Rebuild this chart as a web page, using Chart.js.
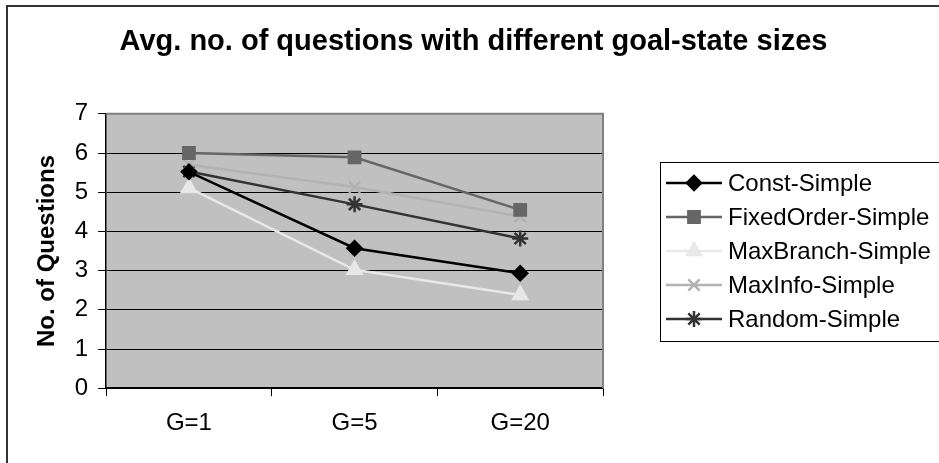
<!DOCTYPE html>
<html>
<head>
<meta charset="utf-8">
<script src="https://cdn.jsdelivr.net/npm/chart.js@4.4.1/dist/chart.umd.min.js"></script>
<style>
  html, body { margin: 0; padding: 0; background: #fff; }
  #wrap { position: relative; width: 939px; height: 463px; }
</style>
</head>
<body>
<div id="wrap"><canvas id="goalChart" width="939" height="463"></canvas></div>
<script>
// Data
const categories = ['G=1', 'G=5', 'G=20'];
const constSimple = [5.52, 3.57, 2.93];
const fixedOrderSimple = [6.0, 5.89, 4.55];
const maxBranchSimple = [5.11, 3.02, 2.38];
const maxInfoSimple = [5.7, 5.13, 4.38];
const randomSimple = [5.53, 4.69, 3.82];
const yTicks = [0, 1, 2, 3, 4, 5, 6, 7];

const FONT = 'Arial, "Liberation Sans", sans-serif';

// gray plot background + frame around whole picture
const plotBg = {
  id: 'plotBg',
  beforeDraw(chart) {
    const { ctx, chartArea: a } = chart;
    ctx.save();
    ctx.fillStyle = '#C0C0C0';
    ctx.fillRect(a.left, a.top, a.right - a.left, a.bottom - a.top);
    ctx.restore();
  },
  beforeDatasetsDraw(chart) {
    const { ctx, chartArea: a } = chart;
    ctx.save();
    ctx.strokeStyle = '#808080';
    ctx.lineWidth = 2;
    ctx.beginPath();
    ctx.moveTo(a.left, a.top);
    ctx.lineTo(a.right, a.top);
    ctx.lineTo(a.right, a.bottom);
    ctx.stroke();
    ctx.restore();
  },
  afterDraw(chart) {
    const ctx = chart.ctx;
    ctx.save();
    ctx.fillStyle = '#333';
    ctx.fillRect(6, 5, 2, chart.height - 5);
    ctx.fillRect(6, 5, chart.width - 6, 2);
    ctx.restore();
  }
};

// legend box on the right (line + marker samples, framed)
const boxLegend = {
  id: 'boxLegend',
  beforeInit(chart) {
    Chart.layouts.addBox(chart, {
      position: 'right',
      weight: 100,
      fullSize: false,
      options: {},
      width: 0, height: 0, left: 0, right: 0, top: 0, bottom: 0,
      isHorizontal() { return false; },
      update(maxW, maxH) { this.width = 336; this.height = maxH; return { width: 336, height: maxH }; },
      draw() {}
    });
  },
  afterDraw(chart) {
    const { ctx, chartArea: a } = chart;
    const sets = chart.data.datasets;
    const rowH = 34;
    const midY = (a.top + a.bottom) / 2;
    const y0 = midY - rowH * (sets.length - 1) / 2;
    const bx = a.right + 57;
    ctx.save();
    ctx.strokeStyle = '#000';
    ctx.lineWidth = 1;
    ctx.strokeRect(bx + 0.5, y0 - 20.5, chart.width + 20, rowH * (sets.length - 1) + 43);
    sets.forEach((ds, i) => {
      const y = y0 + i * rowH;
      ctx.strokeStyle = ds.borderColor;
      ctx.lineWidth = ds.borderWidth;
      ctx.beginPath();
      ctx.moveTo(bx + 6, y);
      ctx.lineTo(bx + 62, y);
      ctx.stroke();
      ctx.fillStyle = ds.pointBackgroundColor;
      ctx.strokeStyle = ds.pointBorderColor;
      ctx.lineWidth = ds.pointBorderWidth;
      Chart.helpers.drawPoint(ctx, {
        pointStyle: ds.pointStyle,
        radius: ds.pointRadius,
        rotation: 0,
        borderWidth: ds.pointBorderWidth
      }, bx + 34, y);
      ctx.fillStyle = '#000';
      ctx.font = '24px ' + FONT;
      ctx.textBaseline = 'middle';
      ctx.textAlign = 'left';
      ctx.fillText(ds.label, bx + 68, y + 1);
    });
    ctx.restore();
  }
};

function series(label, data, color, style, radius) {
  return {
    label: label,
    data: data,
    borderColor: color,
    backgroundColor: color,
    borderWidth: 2.5,
    pointStyle: style,
    pointRadius: radius,
    pointHoverRadius: radius,
    pointBackgroundColor: color,
    pointBorderColor: color,
    pointBorderWidth: 2.5,
    tension: 0,
    fill: false
  };
}

const ctx = document.getElementById('goalChart').getContext('2d');
const goalChart = new Chart(ctx, {
  type: 'line',
  data: {
    labels: categories,
    datasets: [
      series('Const-Simple', constSimple, '#000000', 'rectRot', 7),
      series('FixedOrder-Simple', fixedOrderSimple, '#666666', 'rect', 8),
      series('MaxBranch-Simple', maxBranchSimple, '#E8E8E8', 'triangle', 8),
      series('MaxInfo-Simple', maxInfoSimple, '#B2B2B2', 'crossRot', 8),
      series('Random-Simple', randomSimple, '#333333', 'star', 8)
    ]
  },
  options: {
    responsive: false,
    animation: false,
    layout: { padding: { left: 8, top: 0, right: 0, bottom: 12 } },
    plugins: {
      legend: { display: false },
      tooltip: { enabled: false },
      title: {
        display: true,
        text: 'Avg. no. of questions with different goal-state sizes',
        color: '#000',
        font: { family: FONT, size: 29, weight: 'bold' },
        padding: { top: 25, bottom: 54 }
      }
    },
    scales: {
      x: {
        offset: true,
        grid: { offset: true, drawOnChartArea: false, drawTicks: true, tickLength: 8, tickColor: '#000' },
        border: { color: '#000', width: 1.5 },
        ticks: { color: '#000', font: { family: FONT, size: 24 }, padding: 13, maxRotation: 0 }
      },
      y: {
        min: 0,
        max: 7,
        afterBuildTicks(scale) { scale.ticks = yTicks.map(v => ({ value: v })); },
        grid: {
          color: c => (c.tick && c.tick.value === 7) ? 'rgba(0,0,0,0)' : '#000',
          lineWidth: 1,
          tickLength: 8,
          tickColor: '#000'
        },
        border: { color: '#000', width: 1.5 },
        ticks: { color: '#000', font: { family: FONT, size: 24 }, padding: 10 },
        title: {
          display: true,
          text: 'No. of Questions',
          color: '#000',
          font: { family: FONT, size: 24, weight: 'bold' },
          padding: { top: 25, bottom: 3 }
        }
      }
    }
  },
  plugins: [plotBg, boxLegend]
});
</script>
</body>
</html>
